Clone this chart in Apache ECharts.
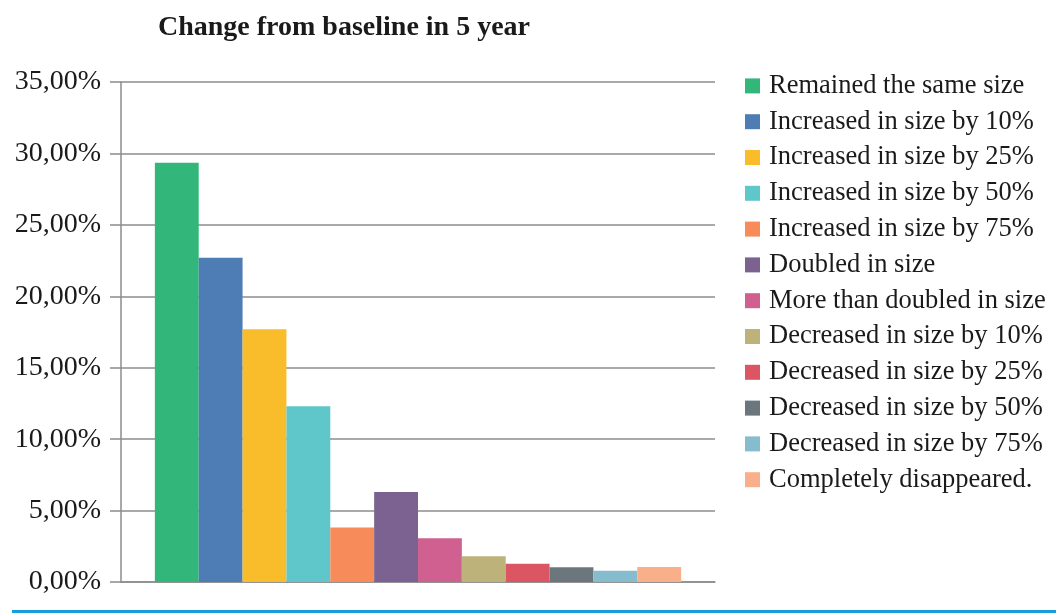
<!DOCTYPE html>
<html>
<head>
<meta charset="utf-8">
<script src="https://cdn.jsdelivr.net/npm/echarts@6/dist/echarts.min.js"></script>
<style>
html,body{margin:0;padding:0;background:#fff;}
#chart{width:1062px;height:613px;}
</style>
</head>
<body>
<div id="chart"></div>
<script>
var titleText = 'Change from baseline in 5 year';
var categories = [''];
var seriesNames = [
  'Remained the same size',
  'Increased in size by 10%',
  'Increased in size by 25%',
  'Increased in size by 50%',
  'Increased in size by 75%',
  'Doubled in size',
  'More than doubled in size',
  'Decreased in size by 10%',
  'Decreased in size by 25%',
  'Decreased in size by 50%',
  'Decreased in size by 75%',
  'Completely disappeared.'
];
var seriesValues = [29.35, 22.7, 17.7, 12.3, 3.82, 6.3, 3.06, 1.8, 1.28, 1.03, 0.79, 1.05];
var seriesColors = ['#33b67a', '#4e7db5', '#f9bc2a', '#5fc7c9', '#f78b59', '#7b6290',
                    '#d06090', '#bdb27a', '#dc5562', '#6b777d', '#85bdce', '#f9af8a'];
var yTicks = { min: 0, max: 35, interval: 5 };

var serif = '"Liberation Serif", "DejaVu Serif", serif';
var chart = echarts.init(document.getElementById('chart'), null, { renderer: 'canvas' });

var series = seriesNames.map(function (name, i) {
  return {
    name: name,
    type: 'bar',
    data: [seriesValues[i]],
    itemStyle: { color: seriesColors[i] },
    barGap: '0%',
    barCategoryGap: '11.4%',
    animation: false
  };
});

chart.setOption({
  animation: false,
  backgroundColor: '#ffffff',
  title: {
    text: titleText,
    left: 153,
    top: 9,
    textStyle: { fontFamily: serif, fontWeight: 'bold', fontSize: 28, color: '#1a1a1a' }
  },
  legend: {
    orient: 'vertical',
    left: 745,
    top: 68,
    padding: 0,
    itemWidth: 15,
    itemHeight: 15,
    itemGap: 0,
    icon: 'rect',
    data: seriesNames,
    textStyle: {
      fontFamily: serif,
      fontSize: 26.5,
      color: '#1a1a1a',
      lineHeight: 35.8,
      padding: [0, 0, 0, 4]
    }
  },
  grid: { left: 121, right: 347, top: 82, bottom: 31, containLabel: false },
  xAxis: {
    type: 'category',
    data: categories,
    axisLine: { show: true, lineStyle: { color: '#8c8c8c', width: 1.5 } },
    axisTick: { show: false },
    axisLabel: { show: false }
  },
  yAxis: {
    type: 'value',
    min: yTicks.min,
    max: yTicks.max,
    interval: yTicks.interval,
    axisLine: { show: true, lineStyle: { color: '#8c8c8c', width: 1.5 } },
    axisTick: { show: true, length: 11, lineStyle: { color: '#8c8c8c', width: 1.5 } },
    splitLine: { show: true, lineStyle: { color: '#8c8c8c', width: 1.5 } },
    axisLabel: {
      margin: 20,
      fontFamily: serif,
      fontSize: 28,
      color: '#1a1a1a',
      formatter: function (v) { return v.toFixed(2).replace('.', ',') + '%'; }
    }
  },
  graphic: [{
    type: 'rect',
    shape: { x: 12, y: 610, width: 1044, height: 3 },
    style: { fill: '#1a9ddb' },
    silent: true
  }],
  series: series
});
</script>
</body>
</html>
